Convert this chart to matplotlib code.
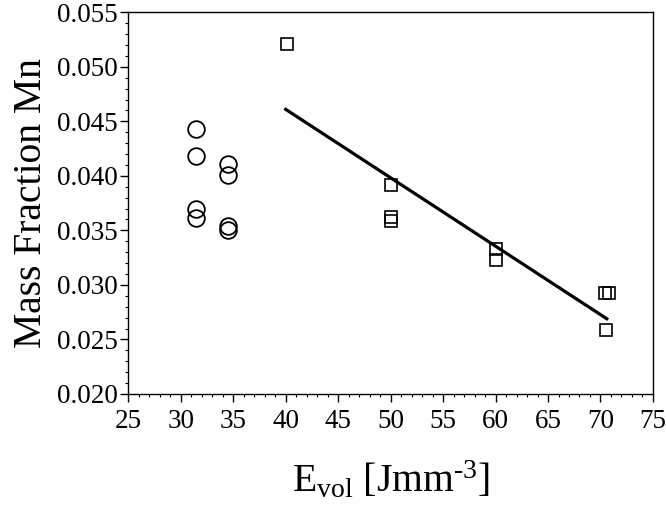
import matplotlib
matplotlib.use("Agg")
import matplotlib.pyplot as plt
from matplotlib.ticker import MultipleLocator, FormatStrFormatter

plt.rcParams['font.family'] = ['Liberation Serif', 'DejaVu Serif']
plt.rcParams['mathtext.fontset'] = 'custom'
plt.rcParams['mathtext.rm'] = 'Liberation Serif'
plt.rcParams['mathtext.it'] = 'Liberation Serif:italic'

circle_x = [31.45, 31.45, 31.45, 31.45, 34.5, 34.5, 34.5, 34.5]
circle_y = [0.0443, 0.0418, 0.0370, 0.0361, 0.0411, 0.0401, 0.0354, 0.0350]

square_x = [40.1, 50.05, 50.05, 50.05, 60.0, 60.0, 70.45, 70.8, 70.55]
square_y = [0.0521, 0.0392, 0.0362, 0.0359, 0.0333, 0.0323, 0.0293, 0.0293, 0.0259]

line_x = [40.0, 70.6]
line_y = [0.0461, 0.0269]

fig = plt.figure(figsize=(6.66, 5.07), dpi=100)
ax = fig.add_axes([0.1926, 0.2229, 0.7878, 0.7529])

ax.plot(circle_x, circle_y, linestyle='none', marker='o', markersize=12,
        markerfacecolor='none', markeredgecolor='black', markeredgewidth=1.3)
ax.plot(square_x, square_y, linestyle='none', marker='s', markersize=8.5,
        markerfacecolor='none', markeredgecolor='black', markeredgewidth=1.2)
ax.plot(line_x, line_y, color='black', linewidth=2.3)

ax.set_xlim(25, 75)
ax.set_ylim(0.020, 0.055)
ax.xaxis.set_major_locator(MultipleLocator(5))
ax.xaxis.set_minor_locator(MultipleLocator(1))
ax.yaxis.set_major_locator(MultipleLocator(0.005))
ax.yaxis.set_minor_locator(MultipleLocator(0.001))
ax.yaxis.set_major_formatter(FormatStrFormatter('%.3f'))

ax.tick_params(which='major', direction='out', length=6, width=1, labelsize=19.5, pad=1.5)
ax.tick_params(which='minor', direction='out', length=2.5, width=0.8)
ax.tick_params(axis='x', which='major', pad=4.5)
ax.tick_params(top=False, right=False)
for s in ax.spines.values():
    s.set_linewidth(1)

ax.set_ylabel('Mass Fraction Mn', fontsize=28.5, labelpad=5)
ax.set_xlabel(r'E$_{\mathrm{vol}}$ [Jmm$^{\text{-3}}$]', fontsize=28.5, labelpad=19)

fig.savefig('out.png', dpi=100)
